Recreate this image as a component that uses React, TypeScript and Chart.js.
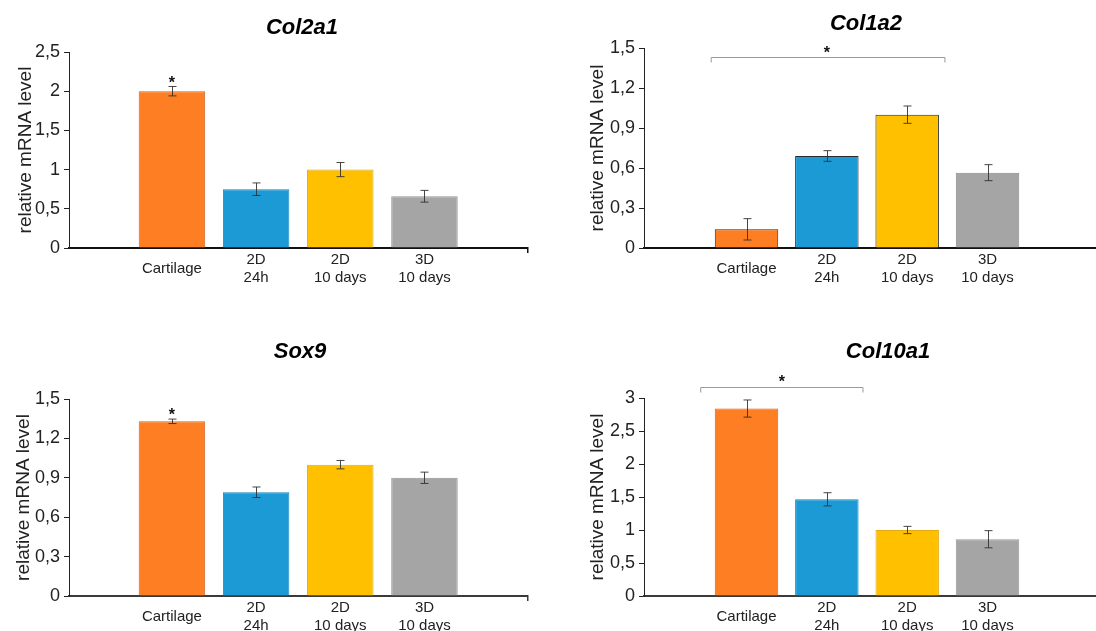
import React, { useEffect, useRef } from 'react';
import { Chart, registerables } from 'chart.js';

Chart.register(...registerables);
Chart.defaults.font.family = '"Liberation Sans", Arial, sans-serif';

// ---------- data ----------
const categories: string[][] = [['Cartilage'], ['2D', '24h'], ['2D', '10 days'], ['3D', '10 days']];
const barColors = ['#FD7E23', '#1B9AD6', '#FFC000', '#A5A5A5'];
const yAxisTitle = 'relative mRNA level';

const col2a1Values = [2.0, 0.75, 1.0, 0.66];
const col2a1Errors = [0.06, 0.08, 0.09, 0.075];
const col2a1Ticks = [0, 0.5, 1, 1.5, 2, 2.5];
const col2a1Stars = [{ x: 0, y: 2.15 }];
const col2a1Brackets: { from: number; to: number; y: number }[] = [];

const col1a2Values = [0.14, 0.69, 1.0, 0.565];
const col1a2Errors = [0.08, 0.04, 0.065, 0.06];
const col1a2Ticks = [0, 0.3, 0.6, 0.9, 1.2, 1.5];
const col1a2Stars = [{ x: 1, y: 1.49 }];
const col1a2Brackets = [{ from: 0, to: 2, y: 1.43 }];

const sox9Values = [1.33, 0.79, 1.0, 0.9];
const sox9Errors = [0.017, 0.04, 0.032, 0.043];
const sox9Ticks = [0, 0.3, 0.6, 0.9, 1.2, 1.5];
const sox9Stars = [{ x: 0, y: 1.41 }];
const sox9Brackets: { from: number; to: number; y: number }[] = [];

const col10a1Values = [2.84, 1.465, 1.0, 0.86];
const col10a1Errors = [0.13, 0.1, 0.055, 0.13];
const col10a1Ticks = [0, 0.5, 1, 1.5, 2, 2.5, 3];
const col10a1Stars = [{ x: 0.44, y: 3.31 }];
const col10a1Brackets = [{ from: 0, to: 1, y: 3.17 }];

// ---------- layout / style ----------
type Panel = {
  title: string;
  values: number[];
  errors: number[];
  ticks: number[];
  stars: { x: number; y: number }[];
  brackets: { from: number; to: number; y: number }[];
  left: number; top: number; width: number; height: number;
  yAxisWidth: number; xAxisHeight: number; padTop: number; padRight: number;
  xMin: number; xMax: number;
  titleX: number; titleY: number; yTitlePad: number;
  axisColor: string; xAxisWidth: number;
  barBorders: string[];
  bracketExt: [number, number];
};

const softBorders = ['#D0652A', '#1985BD', '#E0AA10', '#969696'];
const darkBorders = ['#2A2A2A', '#2A2A2A', '#2A2A2A', '#8A8A8A'];

const panels: Panel[] = [
  {
    title: 'Col2a1', values: col2a1Values, errors: col2a1Errors, ticks: col2a1Ticks,
    stars: col2a1Stars, brackets: col2a1Brackets,
    left: 0, top: 0, width: 548, height: 290,
    yAxisWidth: 69, xAxisHeight: 42, padTop: 52, padRight: 20,
    xMin: -1.223, xMax: 4.23, titleX: 302, titleY: 28, yTitlePad: 14,
    axisColor: '#111', xAxisWidth: 2, barBorders: softBorders, bracketExt: [0.45, 0.45],
  },
  {
    title: 'Col1a2', values: col1a2Values, errors: col1a2Errors, ticks: col1a2Ticks,
    stars: col1a2Stars, brackets: col1a2Brackets,
    left: 560, top: 0, width: 560, height: 290,
    yAxisWidth: 84, xAxisHeight: 42, padTop: 48, padRight: 20,
    xMin: -1.276, xMax: 4.4, titleX: 306, titleY: 23.5, yTitlePad: 26,
    axisColor: '#111', xAxisWidth: 2, barBorders: darkBorders, bracketExt: [0.44, 0.47],
  },
  {
    title: 'Sox9', values: sox9Values, errors: sox9Errors, ticks: sox9Ticks,
    stars: sox9Stars, brackets: sox9Brackets,
    left: 0, top: 310, width: 548, height: 340,
    yAxisWidth: 69, xAxisHeight: 54, padTop: 89, padRight: 20,
    xMin: -1.223, xMax: 4.23, titleX: 300, titleY: 41.5, yTitlePad: 12,
    axisColor: '#3A3A3A', xAxisWidth: 2, barBorders: softBorders, bracketExt: [0.45, 0.45],
  },
  {
    title: 'Col10a1', values: col10a1Values, errors: col10a1Errors, ticks: col10a1Ticks,
    stars: col10a1Stars, brackets: col10a1Brackets,
    left: 560, top: 310, width: 560, height: 340,
    yAxisWidth: 84, xAxisHeight: 54, padTop: 88, padRight: 20,
    xMin: -1.276, xMax: 4.4, titleX: 328, titleY: 42, yTitlePad: 26,
    axisColor: '#3A3A3A', xAxisWidth: 2, barBorders: softBorders, bracketExt: [0.57, 0.45],
  },
];

const fmt = (v: number) => String(v).replace('.', ',');

function makeAnnotPlugin(p: Panel) {
  return {
    id: 'annot',
    afterDatasetsDraw(chart: any) {
      const ctx = chart.ctx;
      const xs = chart.scales.x;
      const ys = chart.scales.y;
      ctx.save();
      // error bars
      ctx.strokeStyle = 'rgba(50,50,50,0.9)';
      ctx.lineWidth = 1;
      p.values.forEach((v, i) => {
        const x = Math.round(xs.getPixelForValue(i)) + 0.5;
        const yh = ys.getPixelForValue(v + p.errors[i]);
        const yl = ys.getPixelForValue(v - p.errors[i]);
        ctx.beginPath();
        ctx.moveTo(x, yh); ctx.lineTo(x, yl);
        ctx.moveTo(x - 4, yh); ctx.lineTo(x + 4, yh);
        ctx.moveTo(x - 4, yl); ctx.lineTo(x + 4, yl);
        ctx.stroke();
      });
      // brackets
      ctx.strokeStyle = '#9A9A9A';
      p.brackets.forEach((b) => {
        const x1 = xs.getPixelForValue(b.from - p.bracketExt[0]);
        const x2 = xs.getPixelForValue(b.to + p.bracketExt[1]);
        const y = Math.round(ys.getPixelForValue(b.y)) + 0.5;
        ctx.beginPath();
        ctx.moveTo(x1, y + 5); ctx.lineTo(x1, y); ctx.lineTo(x2, y); ctx.lineTo(x2, y + 5);
        ctx.stroke();
      });
      // stars
      ctx.fillStyle = '#111';
      ctx.font = 'bold 16px "Liberation Sans", Arial, sans-serif';
      ctx.textAlign = 'center';
      ctx.textBaseline = 'alphabetic';
      p.stars.forEach((s) => {
        ctx.fillText('*', xs.getPixelForValue(s.x), ys.getPixelForValue(s.y) + 9);
      });
      // title
      ctx.fillStyle = '#000';
      ctx.font = 'italic bold 22px "Liberation Sans", Arial, sans-serif';
      ctx.textBaseline = 'middle';
      ctx.fillText(p.title, p.titleX, p.titleY);
      ctx.restore();
    },
  };
}

function PanelChart({ p }: { p: Panel }) {
  const ref = useRef<HTMLCanvasElement>(null);
  useEffect(() => {
    if (!ref.current) return;
    const chart = new Chart(ref.current, {
      type: 'bar',
      data: {
        datasets: [
          {
            data: p.values.map((v, i) => ({ x: i, y: v })),
            backgroundColor: barColors,
            borderColor: p.barBorders,
            borderWidth: 1,
            categoryPercentage: 1,
            barPercentage: 0.79,
          } as any,
        ],
      },
      options: {
        animation: false,
        responsive: false,
        maintainAspectRatio: false,
        events: [],
        layout: { padding: { top: p.padTop, right: p.padRight, left: 0, bottom: 0 } },
        plugins: { legend: { display: false }, tooltip: { enabled: false }, title: { display: false } },
        scales: {
          x: {
            type: 'linear',
            min: p.xMin,
            max: p.xMax,
            offset: false,
            afterBuildTicks: (ax: any) => {
              ax.ticks = [p.xMin, ...categories.map((_, i) => i), p.xMax].map((v) => ({ value: v }));
            },
            afterFit: (ax: any) => { ax.height = p.xAxisHeight; },
            grid: {
              offset: false,
              drawOnChartArea: false,
              drawTicks: true,
              tickLength: 5,
              lineWidth: 1.5,
              color: (c: any) => (c.tick && c.tick.value === p.xMax ? p.axisColor : 'rgba(0,0,0,0)'),
            },
            border: { display: true, color: p.axisColor, width: p.xAxisWidth },
            ticks: {
              autoSkip: false,
              maxRotation: 0,
              minRotation: 0,
              padding: 6.5,
              crossAlign: 'center',
              color: '#222',
              font: { size: 15 },
              callback: (v: any) => (Number.isInteger(v) && categories[v] ? categories[v] : ''),
            },
          },
          y: {
            min: 0,
            max: p.ticks[p.ticks.length - 1],
            afterBuildTicks: (ax: any) => { ax.ticks = p.ticks.map((v) => ({ value: v })); },
            afterFit: (ax: any) => { ax.width = p.yAxisWidth; },
            grid: { drawOnChartArea: false, drawTicks: true, tickLength: 5, color: '#222' },
            border: { display: true, color: '#222', width: 1 },
            ticks: { padding: 4, color: '#222', font: { size: 18 }, callback: (v: any) => fmt(v) },
            title: {
              display: true,
              text: yAxisTitle,
              color: '#222',
              font: { size: 19 },
              padding: { top: p.yTitlePad, bottom: 0 },
            },
          },
        },
      } as any,
      plugins: [makeAnnotPlugin(p)],
    });
    return () => chart.destroy();
  }, [p]);
  return (
    <canvas
      ref={ref}
      width={p.width}
      height={p.height}
      style={{ position: 'absolute', left: p.left, top: p.top, width: p.width, height: p.height }}
    />
  );
}

export default function App() {
  return (
    <div
      style={{
        position: 'fixed', left: 0, top: 0, width: 1096, height: 631,
        overflow: 'hidden', background: '#fff',
      }}
    >
      {panels.map((p) => (
        <PanelChart key={p.title} p={p} />
      ))}
    </div>
  );
}
